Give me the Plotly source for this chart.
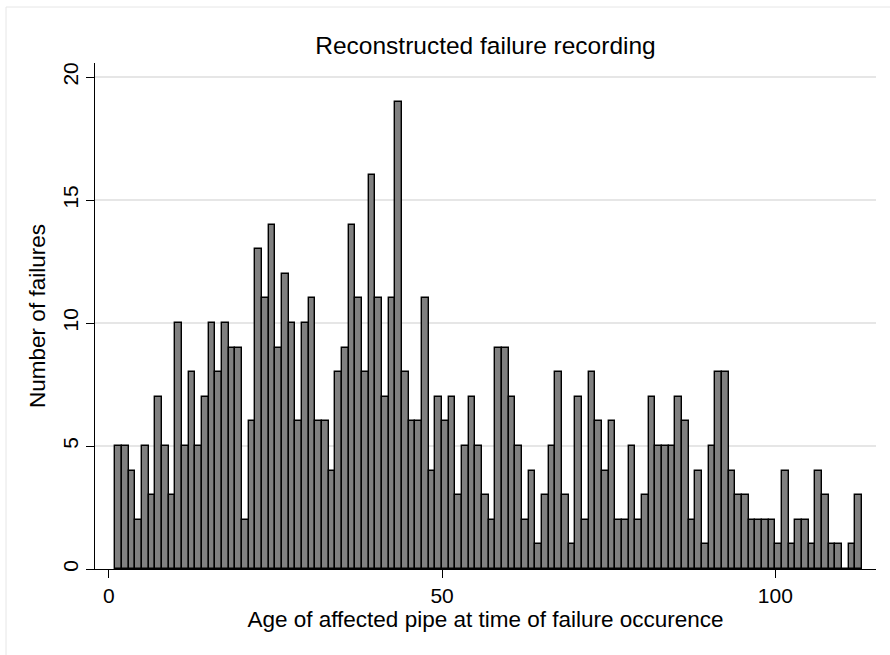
import plotly.graph_objects as go

# Failures per year of pipe age (age in years, 1..112)
ages = list(range(1, 113))
failures = [
    5, 5, 4, 2, 5, 3, 7, 5, 3, 10,
    5, 8, 5, 7, 10, 8, 10, 9, 9, 2,
    6, 13, 11, 14, 9, 12, 10, 6, 10, 11,
    6, 6, 4, 8, 9, 14, 11, 8, 16, 11,
    7, 11, 19, 8, 6, 6, 11, 4, 7, 6,
    7, 3, 5, 7, 5, 3, 2, 9, 9, 7,
    5, 2, 4, 1, 3, 5, 8, 3, 1, 7,
    2, 8, 6, 4, 6, 2, 2, 5, 2, 3,
    7, 5, 5, 5, 7, 6, 2, 4, 1, 5,
    8, 8, 4, 3, 3, 2, 2, 2, 2, 1,
    4, 1, 2, 2, 1, 4, 3, 1, 1, 0,
    1, 3,
]
x_ticks = [0, 50, 100]
y_ticks = [0, 5, 10, 15, 20]

FONT = "Liberation Sans, Arial, sans-serif"

fig = go.Figure(
    go.Bar(
        x=ages,
        y=failures,
        width=1,
        offset=0,
        marker=dict(color="#808080", line=dict(color="#000000", width=1.4)),
        hoverinfo="x+y",
    )
)

fig.update_layout(
    width=890,
    height=655,
    margin=dict(l=95, r=14, t=63, b=86),
    paper_bgcolor="white",
    plot_bgcolor="white",
    showlegend=False,
    bargap=0,
    font=dict(family=FONT, size=21, color="#000000"),
    title=dict(
        text="Reconstructed failure recording",
        x=0.5,
        xref="paper",
        y=1 - 45 / 655,
        yref="container",
        xanchor="center",
        yanchor="middle",
        font=dict(family=FONT, size=24.5, color="#000000"),
    ),
    shapes=[
        dict(
            type="rect",
            xref="paper",
            yref="paper",
            x0=(6 - 95) / 781,
            x1=(900 - 95) / 781,
            y0=-0.25,
            y1=(569 - 7) / 506,
            line=dict(color="#e6e6e6", width=1),
            fillcolor="rgba(0,0,0,0)",
            layer="below",
        )
    ],
)

fig.update_xaxes(
    range=[-2.07, 115.1],
    tickvals=x_ticks,
    ticktext=[str(v) for v in x_ticks],
    ticks="outside",
    ticklen=8,
    tickwidth=1,
    tickcolor="#000000",
    showline=True,
    linecolor="#000000",
    linewidth=1,
    showgrid=False,
    zeroline=False,
    tickfont=dict(family=FONT, size=21),
    title=dict(
        text="Age of affected pipe at time of failure occurence",
        font=dict(family=FONT, size=22.5),
        standoff=3,
    ),
)

fig.update_yaxes(
    range=[0, 20.57],
    tickvals=y_ticks,
    ticktext=[str(v) for v in y_ticks],
    tickangle=-90,
    ticks="outside",
    ticklen=8,
    tickwidth=1,
    tickcolor="#000000",
    showline=True,
    linecolor="#000000",
    linewidth=1,
    showgrid=True,
    gridcolor="#e6e6e6",
    gridwidth=1.5,
    zeroline=False,
    tickfont=dict(family=FONT, size=21),
    title=dict(
        text="Number of failures",
        font=dict(family=FONT, size=22.5),
        standoff=6,
    ),
)

fig.write_html("out.html")
